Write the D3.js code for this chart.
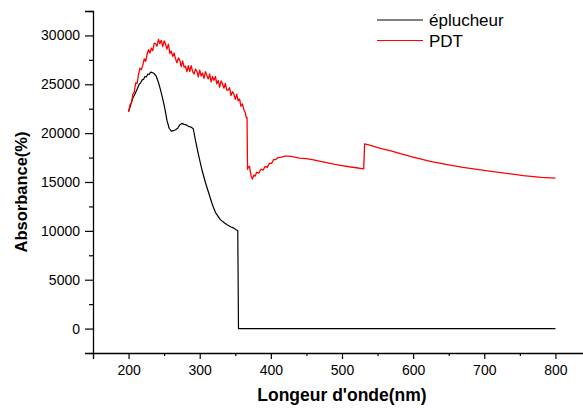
<!DOCTYPE html>
<html>
<head>
<meta charset="utf-8">
<script src="https://cdn.jsdelivr.net/npm/d3@7"></script>
<style>
    body { margin: 0; background: #fff; }
    text { font-family: Arial, "Liberation Sans", sans-serif; }
</style>
</head>
<body>
<div id="chart"></div>
<script>
// absorbance spectra, values
let xTicks = [200, 300, 400, 500, 600, 700, 800];
let yTicks = [0, 5000, 10000, 15000, 20000, 25000, 30000];

// éplucheur (black)
let peelWl = [200, 203, 206, 209, 212, 215, 217, 219, 221, 223, 225, 227, 229, 231, 233, 236, 239, 242, 245, 248,
    251, 254, 257, 260, 263, 266, 269, 272, 275, 278, 281, 284, 287, 291, 294, 299, 303.5, 308, 313, 317.5, 322,
    329, 334, 339, 344, 348, 351, 353.5, 354.5, 800];
let peelVal = [22200, 22900, 23600, 24000, 24500, 25000, 25150, 25450, 25500, 25800, 25750, 26050, 26000, 26250,
    26200, 26100, 25800, 25200, 24400, 23500, 22500, 21300, 20500, 20200, 20250, 20350, 20500, 20850, 21000,
    20900, 20850, 20700, 20650, 20450, 19250, 17550, 16150, 14950, 13800, 12750, 11900, 11150, 10850, 10600,
    10400, 10280, 10120, 10030, 0, 0];

// PDT (red)
let pdtWl = [200, 202, 204, 206, 208, 210, 212, 214, 216, 218, 220, 222, 224, 226, 228, 230, 232, 234, 236, 238,
    240, 242, 244, 246, 248, 250, 252, 254, 256, 258, 260, 262, 264, 266, 268, 270, 272, 274, 276, 278,
    280, 282, 284, 286, 288, 290, 292, 294, 296, 298, 300, 302, 304, 306, 308, 310, 312, 314, 316, 318,
    320, 322, 324, 326, 328, 330, 332, 334, 336, 338, 340, 342, 344, 346, 348, 350, 352, 354, 356, 358,
    360, 362, 364, 365.5, 366.5,
    367.2, 368, 370, 372, 374, 376, 378, 380, 383, 386, 389, 392, 395, 398, 401, 404, 407, 410, 415, 420,
    425, 430, 440, 450, 460, 470, 480, 490, 500, 510, 520, 530.5, 531.8, 540, 554, 570, 582, 600, 624, 650,
    670, 700, 718, 740, 755, 780, 800];
let pdtVal = [22200, 22900, 23050, 24000, 24200, 25150, 25100, 26000, 26650, 26500, 26950, 27600, 27350, 28050,
    28550, 28200, 28700, 28450, 29200, 29150, 28900, 29600, 29150, 29500, 28850, 29450, 29100, 28600, 29100,
    28150, 28400, 27850, 28200, 27600, 27200, 27700, 27450, 26800, 27400, 26750, 26850, 26300, 26900, 26300,
    26900, 26300, 26050, 26550, 26350, 25750, 26450, 25850, 26150, 25600, 26300, 25900, 25550, 26050, 25250,
    25800, 25400, 25800, 25050, 25400, 24700, 25350, 25050, 24600, 25100, 24400, 24400, 24650, 23850, 24250,
    24000, 23450, 24000, 23300, 23500, 22750, 23000, 22400, 22100, 21600, 21600,
    16300, 16500, 16600, 15700, 15300, 15700, 15600, 16000, 15900, 16300, 16200, 16600, 16500, 16900, 16900,
    17300, 17300, 17500, 17550, 17650, 17650, 17600, 17450, 17400, 17270, 17100, 16950, 16800, 16680, 16560,
    16460, 16350, 18900, 18750, 18450, 18150, 17900, 17550, 17100, 16750, 16500, 16200, 16000, 15800, 15650,
    15480, 15400];

let seriesNames = ["éplucheur", "PDT"];
let seriesColors = ["#000000", "#ff0000"];

let width = 583, height = 408;
let svg, x, y;

function init() {
    svg = d3.select("#chart").append("svg")
        .attr("width", width)
        .attr("height", height);

    // scales: axis frame runs from x=93 to beyond the right edge, y from 11 to 353
    x = d3.scaleLinear().domain([150, 850]).range([93, 591]);
    y = d3.scaleLinear().domain([-2500, 32500]).range([353, 11]);

    drawAxes();
    drawLine(peelWl, peelVal, seriesColors[0], 1.2);
    drawLine(pdtWl, pdtVal, seriesColors[1], 1.3);
    drawLegend();
}

function drawAxes() {
    // y axis, major + minor ticks
    let yAxis = svg.append("g")
        .attr("transform", "translate(93,0)")
        .call(d3.axisLeft(y).tickValues(yTicks).tickSize(8).tickPadding(5).tickFormat(d3.format("d")));
    yAxis.append("g")
        .call(d3.axisLeft(y).tickValues(d3.range(-2500, 32501, 5000)).tickSize(4).tickFormat(""))
        .select(".domain").remove();
    yAxis.selectAll("text").style("font-size", "14px").attr("fill", "#000");

    // x axis
    let xAxis = svg.append("g")
        .attr("transform", "translate(0,353)")
        .call(d3.axisBottom(x).tickValues(xTicks).tickSize(6).tickPadding(6));
    xAxis.append("g")
        .call(d3.axisBottom(x).tickValues(d3.range(150, 851, 100)).tickSize(3).tickFormat(""))
        .select(".domain").remove();
    xAxis.selectAll("text").style("font-size", "14px").attr("fill", "#000");

    svg.selectAll(".domain").attr("stroke-width", 1.3);
    svg.selectAll(".tick line").attr("stroke-width", 1.2);

    // axis titles
    svg.append("text")
        .attr("x", 342)
        .attr("y", 401)
        .attr("text-anchor", "middle")
        .style("font-size", "17.5px")
        .style("font-weight", "bold")
        .text("Longeur d'onde(nm)");

    svg.append("text")
        .attr("transform", "translate(27,192) rotate(-90)")
        .attr("text-anchor", "middle")
        .style("font-size", "16.5px")
        .style("font-weight", "bold")
        .text("Absorbance(%)");
}

function drawLine(wl, vals, color, w) {
    let pts = wl.map((d, i) => [d, vals[i]]);
    let line = d3.line()
        .x(d => x(d[0]))
        .y(d => y(d[1]));
    svg.append("path")
        .datum(pts)
        .attr("d", line)
        .attr("fill", "none")
        .attr("stroke", color)
        .attr("stroke-width", w)
        .attr("stroke-linejoin", "round");
}

function drawLegend() {
    let legend = svg.append("g").attr("transform", "translate(377,20)");
    seriesNames.forEach(function (name, i) {
        legend.append("line")
            .attr("x1", 0).attr("x2", 46)
            .attr("y1", i * 20.5).attr("y2", i * 20.5)
            .attr("stroke", seriesColors[i])
            .attr("stroke-width", 1);
        legend.append("text")
            .attr("x", 52)
            .attr("y", i * 20.5 + 6)
            .style("font-size", "17px")
            .text(name);
    });
}

init();
</script>
</body>
</html>
